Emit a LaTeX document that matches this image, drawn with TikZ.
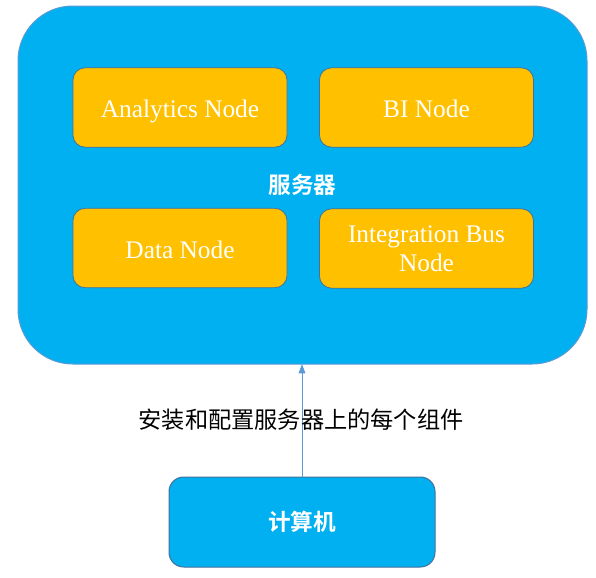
\documentclass[tikz,border=0pt]{standalone}
\usepackage{fontspec}
\setmainfont{Liberation Serif}
\newfontfamily\cjk{Noto Sans CJK SC}
\newfontfamily\cjkb{Noto Sans CJK SC Bold}
\usetikzlibrary{arrows.meta}
\definecolor{srvblue}{HTML}{00B0F0}
\definecolor{edgeblue}{HTML}{5B9BD5}
\definecolor{nodeorange}{HTML}{FFC000}
\definecolor{boxline}{HTML}{41719C}
\begin{document}
\begin{tikzpicture}[x=0.75pt,y=-0.75pt,
  server/.style={draw=edgeblue,fill=srvblue,line width=0.75pt,rounded corners=41pt,
    minimum width=426.75pt,minimum height=268.5pt,inner sep=0pt,outer sep=0pt,
    text=white,font=\cjkb\fontsize{17}{20}\selectfont},
  comp/.style={draw=boxline,fill=srvblue,line width=0.75pt,rounded corners=11pt,
    minimum width=199.5pt,minimum height=67.5pt,inner sep=0pt,outer sep=0pt,
    text=white,font=\cjkb\fontsize{17}{20}\selectfont},
  nodebox/.style={draw=boxline,fill=nodeorange,line width=0.6pt,rounded corners=9pt,
    minimum width=160.5pt,minimum height=59.5pt,inner sep=0pt,outer sep=0pt,
    text=white,font=\fontsize{19}{21.75}\selectfont,align=center},
  oneline/.style={text height=16pt,text depth=0.5pt},
  conn/.style={draw=edgeblue,line width=0.75pt,-{Triangle[length=7pt,width=5pt]}},
  lbl/.style={text=black,font=\cjk\fontsize{17.4}{20}\selectfont,inner sep=0pt}
]
\useasboundingbox (0,0) rectangle (596,578);
\node[server] (server) at (302.5,185) {服务器};
\node[nodebox,oneline] (analytics) at (180,107.5) {Analytics Node};
\node[nodebox,oneline] (bi) at (426.5,107.5) {BI Node};
\node[nodebox,oneline] (data) at (180,248) {Data Node};
\node[nodebox] (bus) at (426.5,248.5) {Integration Bus\\Node};
\node[comp] (comp) at (302,522) {计算机};
\draw[conn] (comp.north) -- (comp.north |- server.south);
\node[lbl] (label) at (301,420) {安装和配置服务器上的每个组件};
\end{tikzpicture}
\end{document}
